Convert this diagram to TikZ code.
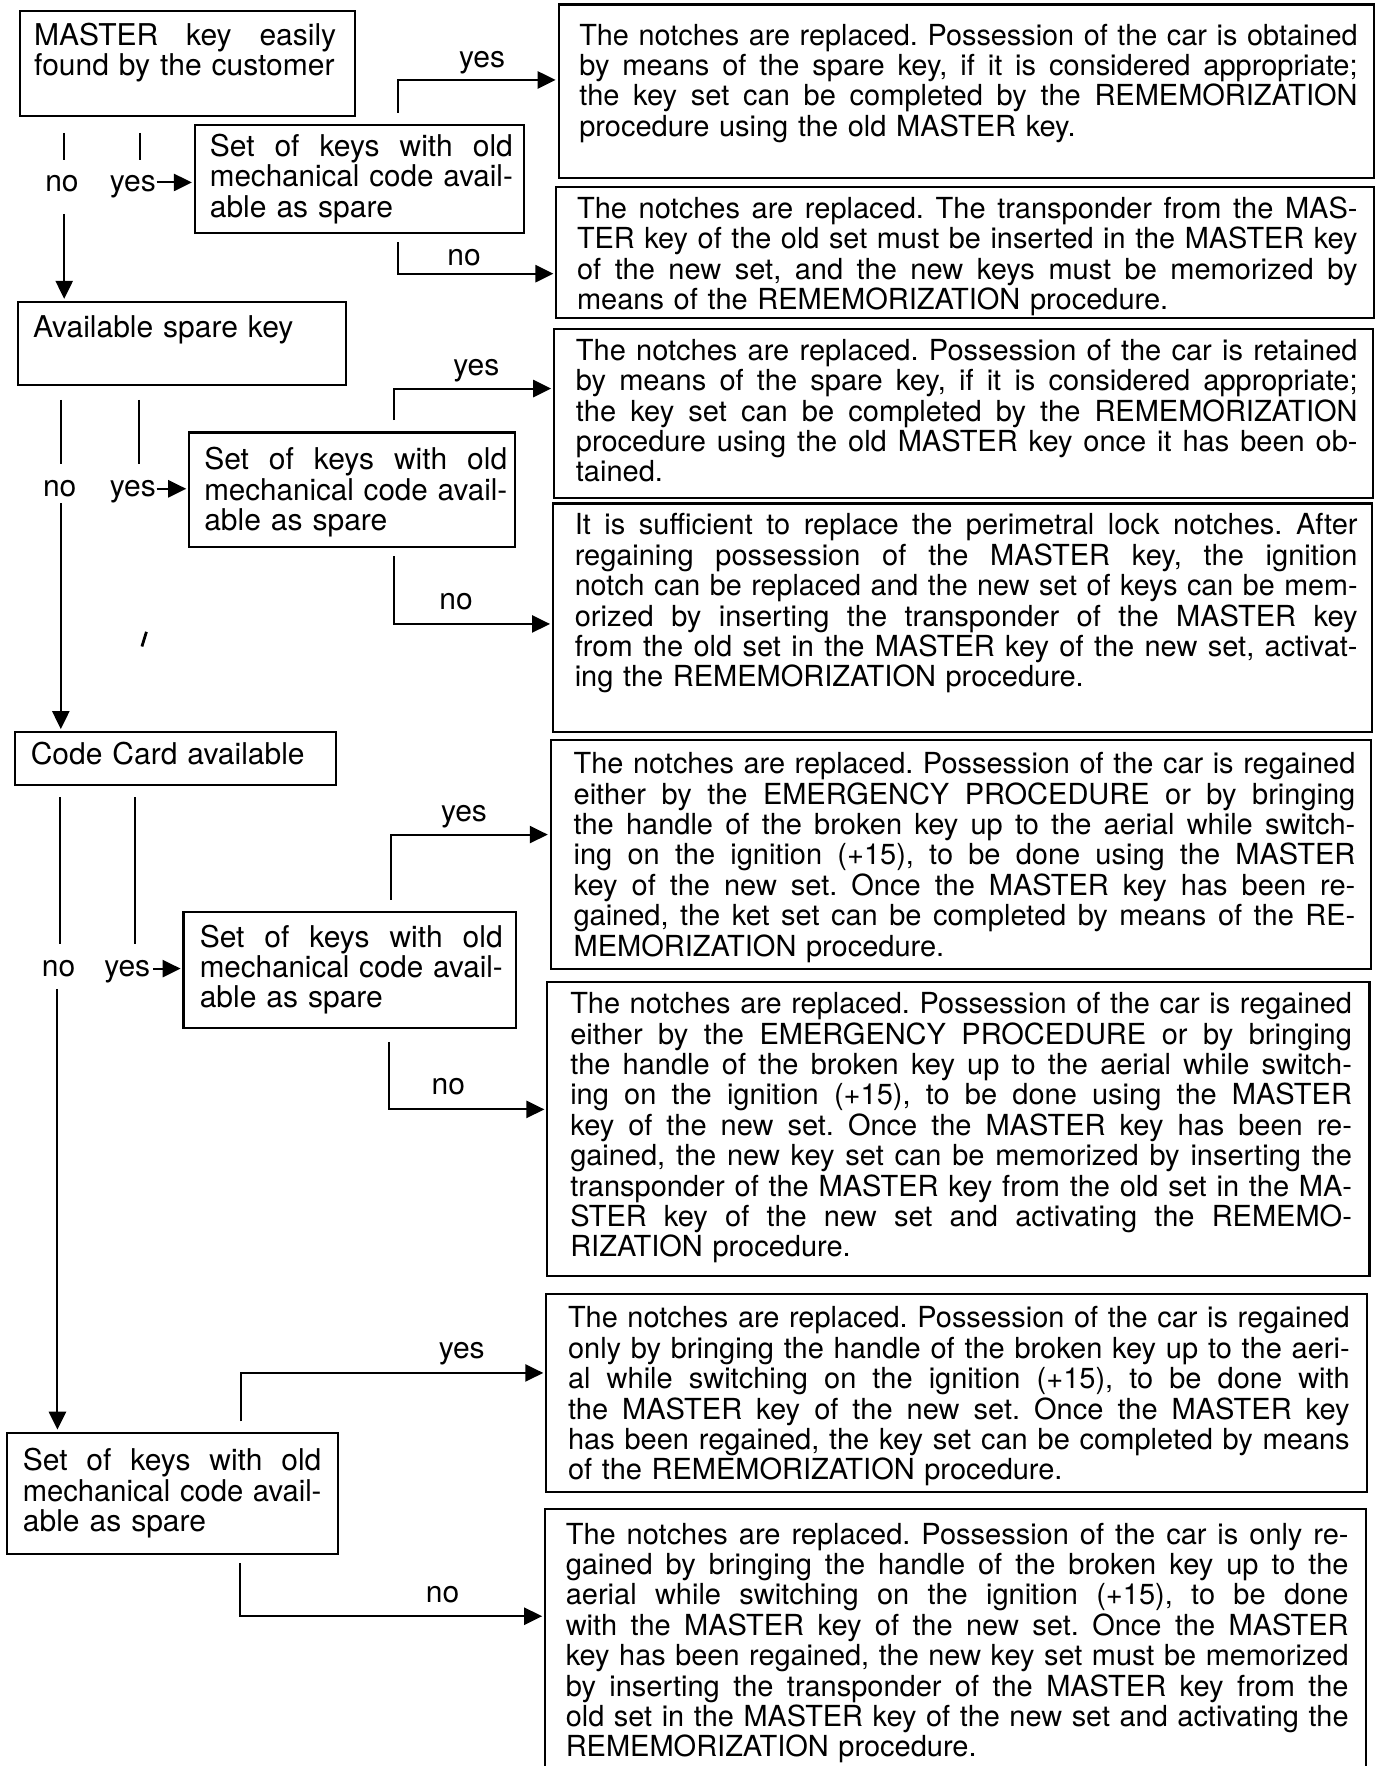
\documentclass[tikz,border=0pt]{standalone}
\usepackage{fontspec}
\setmainfont{TeX Gyre Heros}
\usepackage{graphicx}
\usetikzlibrary{arrows.meta,fit}
\newdimen\uu \uu=0.5633pt
\newlength\jlw
\newcommand\JL[1]{\settowidth\jlw{#1}\ifdim\jlw>\linewidth\resizebox{\linewidth}{\height}{#1}\else\hbox to\linewidth{\spaceskip=\fontdimen2\font plus 1fil\relax #1}\fi\par}
\newcommand\LL[1]{\makebox[\linewidth][l]{#1}\par}
\tikzset{
 box/.style={draw, line width=1.1pt, inner sep=0pt, outer sep=0pt},
 rtxt/.style={anchor=base west, inner sep=0pt, font=\fontsize{14.5pt}{15.2pt}\selectfont\frenchspacing},
 ltxt/.style={anchor=base west, inner sep=0pt, font=\fontsize{15pt}{15.2pt}\selectfont\frenchspacing},
 lab/.style={anchor=base, inner sep=0pt, font=\fontsize{15pt}{15pt}\selectfont},
 conn/.style={line width=1pt},
 arr/.style={line width=1pt, -{Triangle[length=9pt,width=8.6pt]}, shorten >=1.5pt},
}
\begin{document}
\begin{tikzpicture}[x=0.5633pt,y=-0.5633pt]
\useasboundingbox (0,0) rectangle (1224,1568);
\fill[white] (0,0) rectangle (1224,1568);
\clip (0,0) rectangle (1224,1568);

% ---------- left boxes ----------
\node[box, fit={(18,10) (315,103)}] (A) {};
\node[ltxt, text width=268\uu] (At) at (30,40) {\JL{MASTER key easily}\LL{found by the customer}};

\node[box, fit={(173,111) (465,207)}] (B1) {};
\node[ltxt, text width=269\uu] (B1t) at (186,139) {\JL{Set of keys with old}\JL{mechanical code avail-}\LL{able as spare}};

\node[box, fit={(16,268) (307,342)}] (C) {};
\node[ltxt, text width=260\uu] (Ct) at (29,300) {\LL{Available spare key}};

\node[box, fit={(168,384) (457,486)}] (D1) {};
\node[ltxt, text width=269\uu] (D1t) at (181,417) {\JL{Set of keys with old}\JL{mechanical code avail-}\LL{able as spare}};

\node[box, fit={(13,650) (298,697)}] (E) {};
\node[ltxt, text width=260\uu] (Et) at (27,679) {\LL{Code Card available}};

\node[box, fit={(163,810) (458,913)}] (F1) {};
\node[ltxt, text width=269\uu] (F1t) at (177,841) {\JL{Set of keys with old}\JL{mechanical code avail-}\LL{able as spare}};

\node[box, fit={(6,1272) (300,1380)}] (G1) {};
\node[ltxt, text width=265\uu] (G1t) at (20,1306) {\JL{Set of keys with old}\JL{mechanical code avail-}\LL{able as spare}};

% ---------- right boxes ----------
\node[box, fit={(496,4) (1220,158)}] (R1) {};
\node[rtxt, text width=691\uu] (R1t) at (514,40) {%
\JL{The notches are replaced. Possession of the car is obtained}%
\JL{by means of the spare key, if it is considered appropriate;}%
\JL{the key set can be completed by the REMEMORIZATION}%
\LL{procedure using the old MASTER key.}};

\node[box, fit={(494,166) (1220,282)}] (R2) {};
\node[rtxt, text width=693\uu] (R2t) at (512,194) {%
\JL{The notches are replaced. The transponder from the MAS-}%
\JL{TER key of the old set must be inserted in the MASTER key}%
\JL{of the new set, and the new keys must be memorized by}%
\LL{means of the REMEMORIZATION procedure.}};

\node[box, fit={(492,292) (1219,442)}] (R3) {};
\node[rtxt, text width=694\uu] (R3t) at (511,320) {%
\JL{The notches are replaced. Possession of the car is retained}%
\JL{by means of the spare key, if it is considered appropriate;}%
\JL{the key set can be completed by the REMEMORIZATION}%
\JL{procedure using the old MASTER key once it has been ob-}%
\LL{tained.}};

\node[box, fit={(491,447) (1218,650)}] (R4) {};
\node[rtxt, text width=695\uu] (R4t) at (510,475) {%
\JL{It is sufficient to replace the perimetral lock notches. After}%
\JL{regaining possession of the MASTER key, the ignition}%
\JL{notch can be replaced and the new set of keys can be mem-}%
\JL{orized by inserting the transponder of the MASTER key}%
\JL{from the old set in the MASTER key of the new set, activat-}%
\LL{ing the REMEMORIZATION procedure.}};

\node[box, fit={(489,657) (1217,860)}] (R5) {};
\node[rtxt, text width=694\uu] (R5t) at (509,687) {%
\JL{The notches are replaced. Possession of the car is regained}%
\JL{either by the EMERGENCY PROCEDURE or by bringing}%
\JL{the handle of the broken key up to the aerial while switch-}%
\JL{ing on the ignition (+15), to be done using the MASTER}%
\JL{key of the new set. Once the MASTER key has been re-}%
\JL{gained, the ket set can be completed by means of the RE-}%
\LL{MEMORIZATION procedure.}};

\node[box, fit={(486,872) (1216,1133)}] (R6) {};
\node[rtxt, text width=694\uu] (R6t) at (506,900) {%
\JL{The notches are replaced. Possession of the car is regained}%
\JL{either by the EMERGENCY PROCEDURE or by bringing}%
\JL{the handle of the broken key up to the aerial while switch-}%
\JL{ing on the ignition (+15), to be done using the MASTER}%
\JL{key of the new set. Once the MASTER key has been re-}%
\JL{gained, the new key set can be memorized by inserting the}%
\JL{transponder of the MASTER key from the old set in the MA-}%
\JL{STER key of the new set and activating the REMEMO-}%
\LL{RIZATION procedure.}};

\node[box, fit={(485,1149) (1214,1325)}] (R7) {};
\node[rtxt, text width=694\uu] (R7t) at (504,1179) {%
\JL{The notches are replaced. Possession of the car is regained}%
\JL{only by bringing the handle of the broken key up to the aeri-}%
\JL{al while switching on the ignition (+15), to be done with}%
\JL{the MASTER key of the new set. Once the MASTER key}%
\JL{has been regained, the key set can be completed by means}%
\LL{of the REMEMORIZATION procedure.}};

\node[box, fit={(484,1340) (1213,1590)}] (R8) {};
\node[rtxt, text width=695\uu] (R8t) at (502,1371) {%
\JL{The notches are replaced. Possession of the car is only re-}%
\JL{gained by bringing the handle of the broken key up to the}%
\JL{aerial while switching on the ignition (+15), to be done}%
\JL{with the MASTER key of the new set. Once the MASTER}%
\JL{key has been regained, the new key set must be memorized}%
\JL{by inserting the transponder of the MASTER key from the}%
\JL{old set in the MASTER key of the new set and activating the}%
\LL{REMEMORIZATION procedure.}};

% ---------- left column stubs, labels, arrows ----------
\coordinate (s1a) at (57,118);  \coordinate (s1b) at (57,142);
\coordinate (s1c) at (124,118); \coordinate (s1d) at (124,142);
\draw[conn] (s1a) -- (s1b); \draw[conn] (s1c) -- (s1d);
\node[lab] (no1) at (55,170) {no};
\node[lab] (yes1) at (118,170) {yes};
\coordinate (ya1) at (139,162);
\draw[arr] (ya1) -- (ya1 -| B1.west);
\coordinate (na1) at (57,190);
\draw[arr] (na1) -- (na1 |- C.north);

\coordinate (s2a) at (54,355);  \coordinate (s2b) at (54,412);
\coordinate (s2c) at (123,355); \coordinate (s2d) at (123,412);
\draw[conn] (s2a) -- (s2b); \draw[conn] (s2c) -- (s2d);
\node[lab] (no2) at (53,441) {no};
\node[lab] (yes2) at (118,441) {yes};
\coordinate (ya2) at (139,434);
\draw[arr] (ya2) -- (ya2 -| D1.west);
\coordinate (na2) at (54,447);
\draw[arr] (na2) -- (na2 |- E.north);

\coordinate (s3a) at (53,708);  \coordinate (s3b) at (53,838);
\coordinate (s3c) at (120,708); \coordinate (s3d) at (120,838);
\draw[conn] (s3a) -- (s3b); \draw[conn] (s3c) -- (s3d);
\node[lab] (no3) at (52,867) {no};
\node[lab] (yes3) at (113,867) {yes};
\coordinate (ya3) at (136,860);
\draw[arr] (ya3) -- (ya3 -| F1.west);
\coordinate (na3) at (51,878);
\draw[arr] (na3) -- (na3 |- G1.north);

% stray mark
\draw[line width=1.4pt] (126,574) -- (130,561);

% ---------- yes / no branches to the right boxes ----------
\coordinate (b1ys) at (353,100); \coordinate (b1yc) at (353,71);
\draw[arr] (b1ys) -- (b1yc) -- (b1yc -| R1.west);
\node[lab] (b1yl) at (428,60) {yes};
\coordinate (b1ns) at (353,215); \coordinate (b1nc) at (353,243);
\draw[arr] (b1ns) -- (b1nc) -- (b1nc -| R2.west);
\node[lab] (b1nl) at (412,236) {no};

\coordinate (d1ys) at (350,373); \coordinate (d1yc) at (350,345);
\draw[arr] (d1ys) -- (d1yc) -- (d1yc -| R3.west);
\node[lab] (d1yl) at (423,333) {yes};
\coordinate (d1ns) at (350,494); \coordinate (d1nc) at (350,554);
\draw[arr] (d1ns) -- (d1nc) -- (d1nc -| R4.west);
\node[lab] (d1nl) at (405,541) {no};

\coordinate (f1ys) at (347,799); \coordinate (f1yc) at (347,741);
\draw[arr] (f1ys) -- (f1yc) -- (f1yc -| R5.west);
\node[lab] (f1yl) at (412,729) {yes};
\coordinate (f1ns) at (345,925); \coordinate (f1nc) at (345,985);
\draw[arr] (f1ns) -- (f1nc) -- (f1nc -| R6.west);
\node[lab] (f1nl) at (398,972) {no};

\coordinate (g1ys) at (214,1262); \coordinate (g1yc) at (214,1219);
\draw[arr] (g1ys) -- (g1yc) -- (g1yc -| R7.west);
\node[lab] (g1yl) at (410,1206) {yes};
\coordinate (g1ns) at (213,1388); \coordinate (g1nc) at (213,1435);
\draw[arr] (g1ns) -- (g1nc) -- (g1nc -| R8.west);
\node[lab] (g1nl) at (393,1423) {no};
\end{tikzpicture}
\end{document}
